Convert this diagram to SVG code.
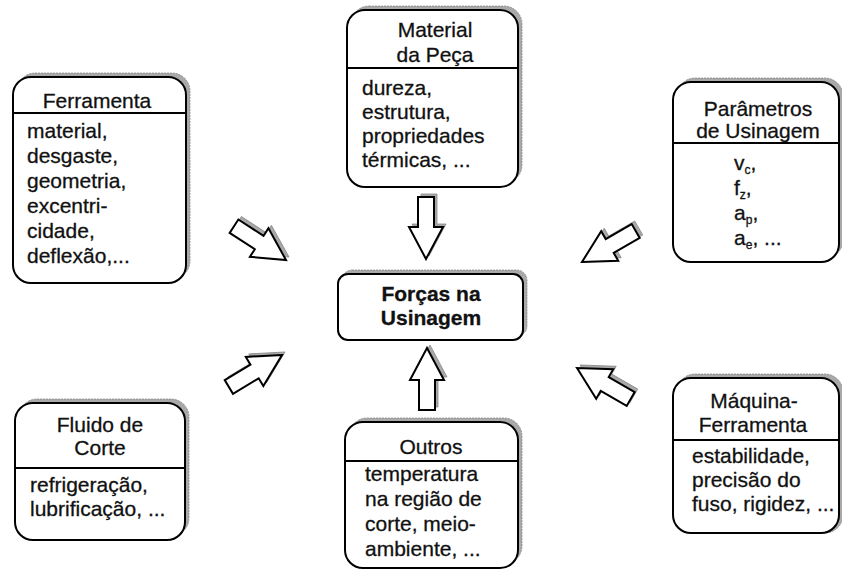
<svg xmlns="http://www.w3.org/2000/svg" xmlns:xlink="http://www.w3.org/1999/xlink" width="842" height="572" viewBox="0 0 842 572">
<style>
.box{fill:#fff;stroke:#000;stroke-width:2}
.shadow{fill:#a9a9a9;stroke:#8a8a8a;stroke-width:0.8;stroke-dasharray:2 1}
.div{stroke:#000;stroke-width:2}
text{font-family:"Liberation Sans",Arial,sans-serif;font-size:21px;fill:#111;stroke:#111;stroke-width:0.3}
.t{text-anchor:middle}
.b{font-weight:bold}
.arrow{fill:#fff;stroke:#000;stroke-width:2;stroke-linejoin:miter}
.ashadow{fill:#a9a9a9;stroke:#8a8a8a;stroke-width:0.8}
.sub{font-size:12px}
</style>
<defs>
<polygon id="arr" points="0,0 -32,-17 -32,-8 -62,-8 -62,8 -32,8 -32,17"/>
</defs>
<rect width="842" height="572" fill="#fff"/>

<g id="ferramenta">
<rect class="shadow" x="17" y="73" width="173" height="206" rx="18"/>
<rect class="box" x="13" y="77" width="173" height="206" rx="18"/>
<line class="div" x1="13" y1="113" x2="186" y2="113"/>
<text class="t" x="97" y="108">Ferramenta</text>
<text x="27" y="138">material,</text>
<text x="27" y="163">desgaste,</text>
<text x="27" y="188">geometria,</text>
<text x="27" y="213">excentri-</text>
<text x="27" y="238">cidade,</text>
<text x="27" y="263">deflexão,...</text>
</g>

<g id="material">
<rect class="shadow" x="351" y="6" width="171" height="177" rx="18"/>
<rect class="box" x="347" y="10" width="171" height="177" rx="18"/>
<line class="div" x1="347" y1="68" x2="518" y2="68"/>
<text class="t" x="435" y="37">Material</text>
<text class="t" x="435" y="62">da Peça</text>
<text x="362" y="95">dureza,</text>
<text x="362" y="119">estrutura,</text>
<text x="362" y="143">propriedades</text>
<text x="362" y="167">térmicas, ...</text>
</g>

<g id="parametros">
<rect class="shadow" x="677" y="78" width="166" height="180" rx="18"/>
<rect class="box" x="673" y="82" width="166" height="180" rx="18"/>
<line class="div" x1="673" y1="143" x2="839" y2="143"/>
<text class="t" x="758" y="116">Parâmetros</text>
<text class="t" x="758" y="138">de Usinagem</text>
<text x="734" y="170">v<tspan class="sub" dy="4">c</tspan><tspan dy="-4">,</tspan></text>
<text x="734" y="195">f<tspan class="sub" dy="4">z</tspan><tspan dy="-4">,</tspan></text>
<text x="734" y="220">a<tspan class="sub" dy="4">p</tspan><tspan dy="-4">,</tspan></text>
<text x="734" y="245">a<tspan class="sub" dy="4">e</tspan><tspan dy="-4">, ...</tspan></text>
</g>

<g id="forcas">
<rect class="shadow" x="342" y="270" width="185" height="66" rx="10"/>
<rect class="box" x="338" y="274" width="185" height="66" rx="10"/>
<text class="t b" x="431" y="301">Forças na</text>
<text class="t b" x="431" y="325">Usinagem</text>
</g>

<g id="fluido">
<rect class="shadow" x="19" y="399" width="170" height="137" rx="18"/>
<rect class="box" x="15" y="403" width="170" height="137" rx="18"/>
<line class="div" x1="15" y1="468" x2="185" y2="468"/>
<text class="t" x="100" y="432">Fluido de</text>
<text class="t" x="100" y="455">Corte</text>
<text x="30" y="492">refrigeração,</text>
<text x="30" y="516">lubrificação, ...</text>
</g>

<g id="outros">
<rect class="shadow" x="349" y="418" width="173" height="146" rx="18"/>
<rect class="box" x="345" y="422" width="173" height="146" rx="18"/>
<line class="div" x1="345" y1="461" x2="518" y2="461"/>
<text class="t" x="431" y="454">Outros</text>
<text x="365" y="481">temperatura</text>
<text x="365" y="506">na região de</text>
<text x="365" y="531">corte, meio-</text>
<text x="365" y="556">ambiente, ...</text>
</g>

<g id="maquina">
<rect class="shadow" x="677" y="374" width="166" height="159" rx="18"/>
<rect class="box" x="673" y="378" width="166" height="155" rx="18"/>
<line class="div" x1="673" y1="440" x2="839" y2="440"/>
<text class="t" x="754" y="408">Máquina-</text>
<text class="t" x="753" y="432">Ferramenta</text>
<text x="692" y="463">estabilidade,</text>
<text x="692" y="487">precisão do</text>
<text x="692" y="511">fuso, rigidez, ...</text>
</g>

<g id="connectors">
<use xlink:href="#arr" class="ashadow" transform="translate(429,256) rotate(90)"/>
<use xlink:href="#arr" class="arrow" transform="translate(426,259) rotate(90)"/>
<use xlink:href="#arr" class="ashadow" transform="translate(430,345) rotate(-90)"/>
<use xlink:href="#arr" class="arrow" transform="translate(427,348) rotate(-90)"/>
<use xlink:href="#arr" class="ashadow" transform="translate(289,257) rotate(33)"/>
<use xlink:href="#arr" class="arrow" transform="translate(286,260) rotate(33)"/>
<use xlink:href="#arr" class="ashadow" transform="translate(285,352) rotate(-31)"/>
<use xlink:href="#arr" class="arrow" transform="translate(282,355) rotate(-31)"/>
<use xlink:href="#arr" class="ashadow" transform="translate(585,259) rotate(150)"/>
<use xlink:href="#arr" class="arrow" transform="translate(582,262) rotate(150)"/>
<use xlink:href="#arr" class="ashadow" transform="translate(580,365) rotate(210)"/>
<use xlink:href="#arr" class="arrow" transform="translate(577,368) rotate(210)"/>
</g>
</svg>
